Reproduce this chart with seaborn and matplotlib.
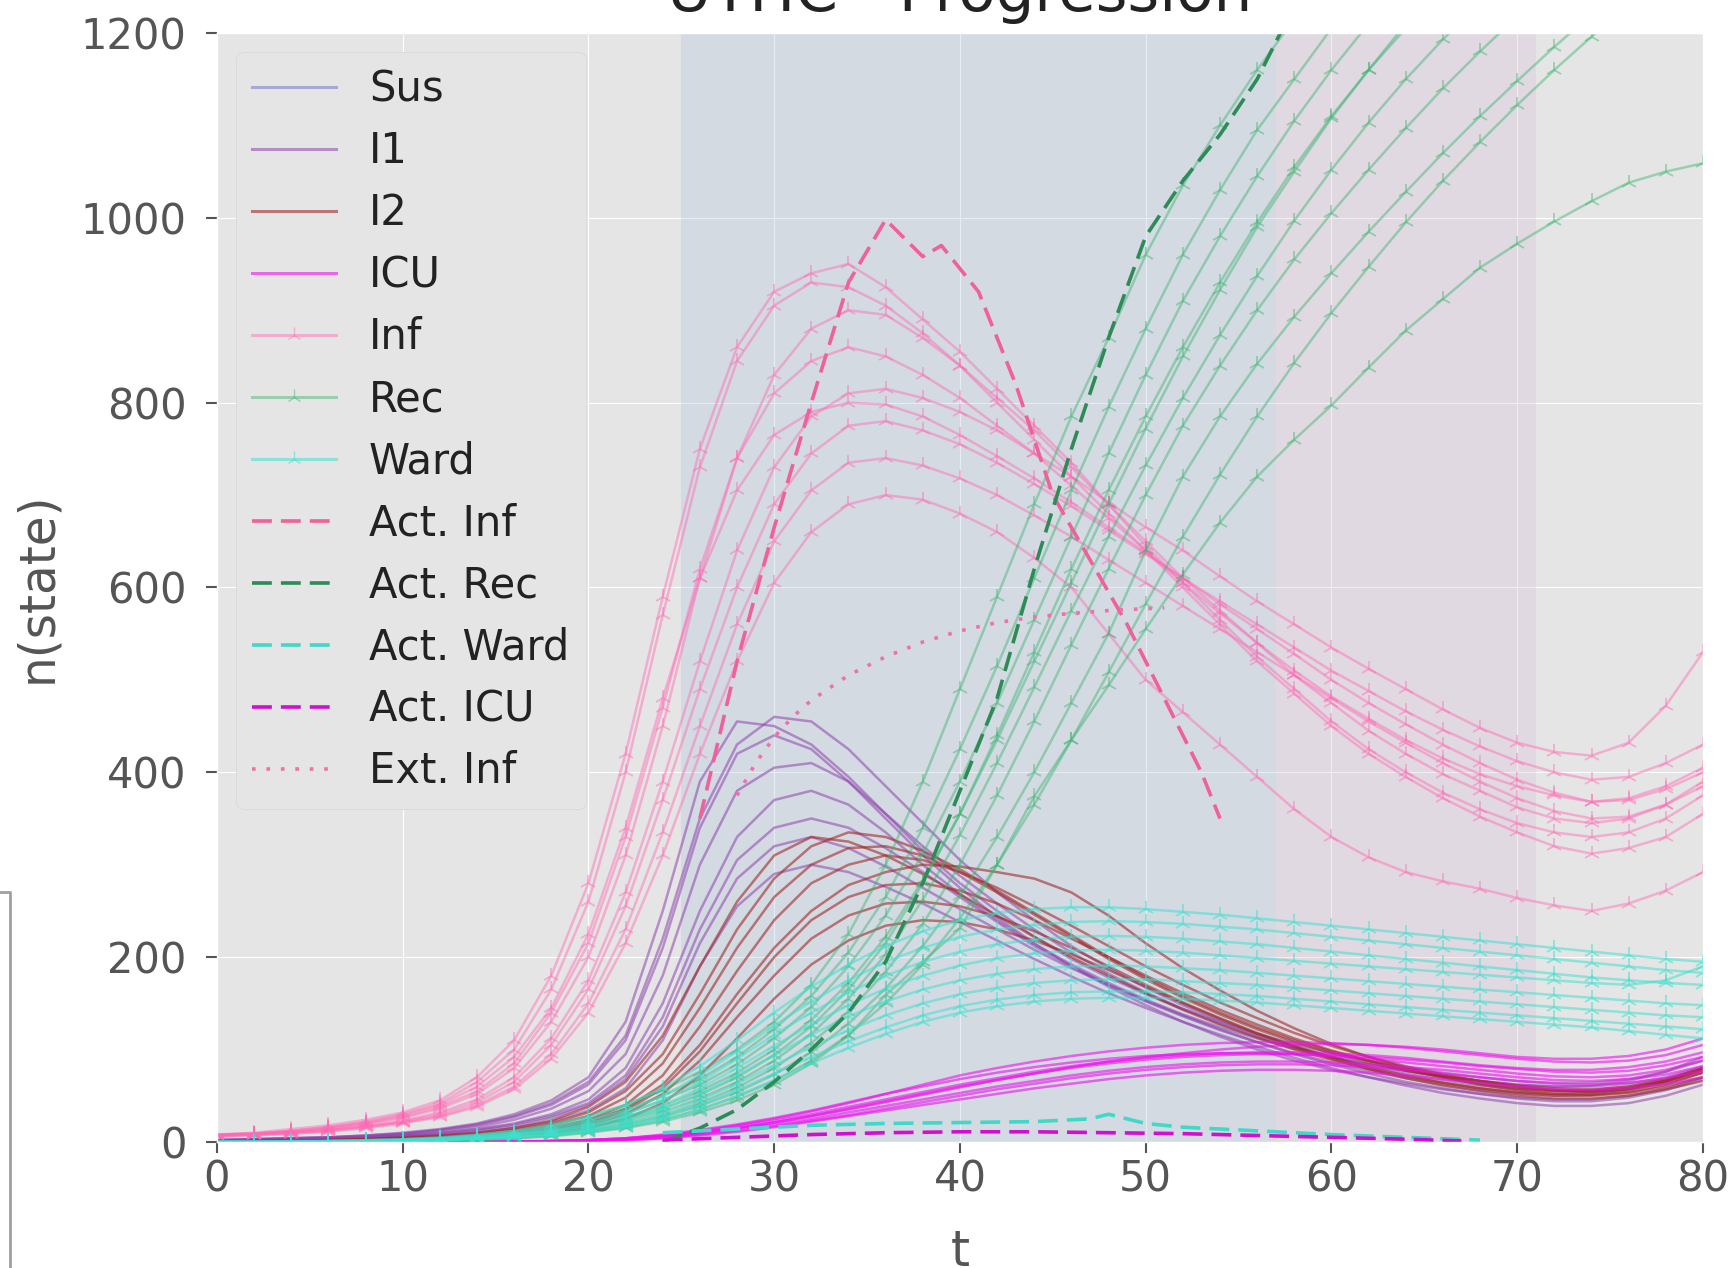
import numpy as np
import pandas as pd
import seaborn as sns
import matplotlib.pyplot as plt
from matplotlib.lines import Line2D

# time axis of the simulated runs (every 2 days)
t_days = list(range(0, 81, 2))

# simulated runs
inf_runs = [
    [8,10,14,18,24,32,45,70,110,180, 280,420,590,750,860,920,940,950,925,890, 855,815,775,735,690,645,605,565,525,490, 455,425,400,378,360,345,335,330,335,350, 375],
    [8,9,12,16,22,30,42,65,100,165, 260,400,570,730,845,905,930,925,905,875, 840,800,760,720,680,640,600,560,520,485, 450,420,395,372,352,335,320,312,318,330, 355],
    [8,9,11,14,19,26,36,52,80,130, 200,310,450,610,740,830,880,900,895,870, 840,805,770,730,690,650,610,575,540,505, 475,445,420,398,380,362,350,345,350,365, 390],
    [7,9,11,15,20,27,38,55,85,140, 215,330,470,620,740,810,845,860,850,830, 805,775,745,710,675,640,605,572,540,510, 482,458,435,415,398,385,375,368,372,385, 405],
    [7,8,10,13,17,23,32,46,70,112, 175,270,390,520,640,730,785,810,815,805, 790,770,745,720,692,665,640,612,585,560, 535,512,490,468,448,432,422,418,432,472, 530],
    [7,8,10,13,17,22,30,43,65,105, 165,255,370,490,600,690,745,775,780,770, 755,735,712,688,662,636,610,585,560,535, 510,488,466,446,428,412,400,392,395,410, 430],
    [6,8,9,12,16,21,28,40,60,95, 150,230,335,450,560,650,705,735,740,732, 718,700,678,655,630,605,580,555,530,505, 480,455,432,410,390,372,358,350,352,365, 385],
    [6,7,9,11,15,20,27,38,57,90, 140,215,310,420,520,605,660,690,700,695, 680,660,632,600,550,500,465,430,395,360, 330,308,292,282,274,264,256,250,258,272, 292],
    [8,9,12,16,21,29,40,60,92,145, 225,340,480,610,705,765,790,800,798,785, 765,742,718,692,665,638,610,582,555,528, 500,475,452,430,410,392,378,368,370,382, 400],
]

rec_runs = [
    [0,0,0,0,1,2,4,7,12,19, 28,40,56,76,100,130,170,225,300,390, 490,590,690,785,870,960,1035,1100,1160,1215, 1265,1310,1355,1395,1430,1465,1495,1525,1550,1575, 1600],
    [0,0,0,0,1,2,3,6,10,16, 24,35,50,68,92,122,158,205,265,340, 425,515,610,705,795,880,960,1030,1095,1150, 1205,1255,1300,1345,1385,1420,1455,1485,1515,1540, 1565],
    [0,0,0,0,1,1,3,5,9,14, 21,31,45,62,84,112,146,190,245,312, 390,475,565,655,745,830,910,980,1045,1105, 1160,1210,1258,1300,1340,1378,1412,1445,1475,1502, 1528],
    [0,0,0,0,0,1,2,4,7,12, 18,27,39,55,75,100,132,172,222,283, 355,435,520,605,690,772,850,922,990,1050, 1108,1160,1210,1255,1298,1338,1375,1410,1442,1472, 1500],
    [0,0,0,0,0,1,2,4,7,11, 17,25,36,51,70,94,125,165,215,280, 355,440,530,620,705,785,860,930,995,1055, 1110,1160,1205,1248,1288,1325,1360,1392,1422,1450, 1476],
    [0,0,0,0,0,1,2,3,6,10, 15,23,33,47,65,88,117,155,203,262, 332,410,492,575,655,732,805,873,937,997, 1052,1103,1150,1193,1233,1270,1305,1338,1369,1398, 1425],
    [0,0,0,0,0,1,2,3,5,8, 13,20,29,42,59,80,107,141,184,236, 300,375,455,538,620,700,775,840,900,955, 1005,1052,1097,1140,1180,1218,1252,1285,1315,1344, 1372],
    [0,0,0,0,0,1,1,3,5,8, 12,18,27,39,54,73,97,128,166,212, 266,330,400,475,550,640,720,785,842,893, 940,985,1028,1070,1110,1148,1185,1220,1252,1283, 1312],
    [0,0,0,0,0,0,1,2,4,7, 11,16,24,35,49,66,88,116,150,192, 242,300,365,435,508,582,655,722,785,843, 897,947,995,1040,1082,1122,1160,1196,1230,1262, 1292],
    [0,0,0,0,0,0,1,2,4,6, 10,15,22,32,45,62,85,115,159,195, 231,300,374,435,494,555,614,670,720,760, 797,838,878,912,946,972,996,1018,1038,1050, 1059],
]

ward_runs = [
    [0,0,1,1,2,3,5,8,12,18, 27,40,58,82,110,140,168,192,212,228, 240,248,252,254,254,252,249,246,242,238, 234,230,226,222,218,214,210,206,202,198, 195],
    [0,0,1,1,2,3,4,7,10,15, 23,34,50,72,98,126,152,175,195,210, 222,230,235,238,239,238,236,233,230,226, 222,218,214,210,206,202,198,194,190,186, 183],
    [0,0,0,1,1,2,4,6,9,13, 20,30,45,65,90,116,140,162,180,195, 206,214,219,222,223,222,220,217,214,210, 206,202,198,194,190,186,182,178,175,172, 170],
    [0,0,0,1,1,2,3,5,8,12, 18,27,40,58,80,104,127,148,166,180, 191,199,204,207,208,207,205,202,199,196, 193,190,187,184,181,178,175,172,170,175, 190],
    [0,0,0,1,1,2,3,5,7,11, 16,24,36,52,72,94,116,136,152,165, 175,182,187,190,191,190,188,186,183,180, 177,174,171,168,165,162,159,156,153,150, 148],
    [0,0,0,0,1,1,2,4,6,9, 14,21,31,45,63,83,103,121,137,150, 160,167,172,175,176,176,174,172,170,167, 164,161,158,155,152,149,146,143,140,137, 135],
    [0,0,0,0,1,1,2,3,5,8, 12,18,27,40,56,74,92,109,124,137, 147,154,159,162,163,163,162,160,158,155, 152,149,146,143,140,137,134,131,128,125, 122],
    [0,0,0,0,1,1,2,3,5,7, 11,16,24,35,50,67,85,102,117,130, 140,147,152,155,156,156,155,153,151,148, 145,142,139,136,133,130,127,124,120,116, 112],
]

i1_runs = [
    [2,3,4,5,7,10,14,20,30,45, 70,130,250,390,455,450,430,395,355,315, 280,250,222,198,178,160,144,130,117,106, 96,88,81,75,70,66,64,64,68,76, 88],
    [2,3,4,5,6,9,13,18,27,40, 62,110,210,340,420,440,425,390,350,310, 275,243,215,190,168,148,130,114,100,88, 78,70,63,57,52,48,46,46,50,58, 70],
    [2,2,3,4,6,8,11,16,24,36, 55,95,180,300,380,405,410,390,355,320, 288,258,230,205,182,162,144,128,114,102, 92,84,77,71,66,62,60,60,63,70, 82],
    [1,2,3,4,5,7,10,14,20,30, 46,80,150,250,330,370,380,365,335,300, 268,240,214,192,172,154,138,124,112,101, 92,84,77,71,66,62,60,61,66,76, 92],
    [1,2,3,4,5,7,9,13,19,28, 42,72,135,230,305,340,350,340,318,292, 265,238,212,190,170,152,136,121,108,96, 86,77,69,62,56,52,50,51,56,65, 78],
    [1,2,2,3,4,6,8,12,17,26, 40,68,125,215,285,320,330,318,298,275, 252,230,208,188,170,153,137,122,108,95, 84,74,65,58,52,47,44,44,48,56, 68],
    [1,1,2,3,4,5,7,10,15,22, 34,58,110,190,255,290,300,292,276,258, 238,218,198,179,161,145,130,116,103,91, 80,70,61,53,47,42,39,39,42,50, 62],
    [2,3,4,5,7,9,13,19,28,42, 65,115,220,350,430,460,455,425,385,345, 305,270,240,212,188,167,148,131,116,103, 92,82,74,67,61,57,55,56,60,68, 80],
]

i2_runs = [
    [0,1,1,2,3,4,6,9,13,20, 32,55,95,160,230,285,320,335,330,315, 295,272,248,224,200,178,158,140,124,110, 98,88,79,72,66,61,58,57,60,68, 80],
    [0,1,1,2,3,4,5,8,12,18, 28,48,85,145,210,265,300,318,320,310, 292,270,246,222,198,176,156,138,122,108, 96,86,77,70,64,59,56,55,58,66, 78],
    [0,0,1,1,2,3,5,7,10,15, 24,40,72,125,185,240,280,300,310,305, 292,275,255,234,212,190,170,151,134,118, 104,92,82,73,66,60,56,55,58,66, 78],
    [0,0,1,1,2,3,4,6,9,14, 22,36,62,105,160,210,250,278,292,300, 298,292,285,270,245,215,188,164,142,123, 106,92,80,70,62,56,52,51,54,62, 75],
    [0,0,1,1,2,3,4,6,9,13, 20,34,58,98,150,200,240,265,278,280, 272,258,240,220,200,180,161,143,127,112, 99,88,78,70,63,58,55,54,57,64, 75],
    [0,0,1,1,2,2,3,5,8,12, 18,30,52,88,135,180,220,245,258,260, 255,244,228,210,190,170,151,134,118,104, 92,81,72,64,58,53,50,50,53,60, 70],
    [0,0,0,1,1,2,3,4,6,10, 15,25,42,72,112,155,192,218,234,240, 238,230,218,203,186,168,150,133,117,103, 90,79,69,61,55,50,47,47,50,57, 66],
    [0,1,1,2,3,5,7,10,15,23, 38,65,115,190,260,310,330,325,310,290, 268,245,222,200,180,161,143,127,113,100, 89,79,71,64,58,54,52,53,57,66, 80],
]

icu_runs = [
    [0,0,0,0,0,0,0,0,0,1, 2,4,7,12,18,25,33,42,52,62, 72,80,87,93,98,102,105,107,108,108, 107,105,102,98,94,90,87,86,88,94, 105],
    [0,0,0,0,0,0,0,0,0,1, 2,3,6,10,15,21,28,36,44,52, 60,67,74,80,85,89,92,94,95,95, 94,92,89,86,82,79,76,75,77,83, 92],
    [0,0,0,0,0,0,0,0,1,1, 2,4,8,13,19,26,34,43,52,60, 68,75,81,86,90,93,95,96,96,95, 93,90,86,82,78,74,71,70,72,78, 88],
    [0,0,0,0,0,0,0,0,0,0, 1,3,5,9,14,19,25,32,39,46, 53,60,66,72,77,81,84,86,87,87, 86,84,81,78,74,70,67,66,68,73, 82],
    [0,0,0,0,0,0,0,0,0,1, 2,3,6,10,15,21,28,35,43,51, 59,67,74,81,87,92,96,100,103,105, 106,105,103,100,96,92,90,90,93,100, 112],
    [0,0,0,0,0,0,0,0,0,0, 1,2,4,7,11,16,22,28,34,40, 46,52,58,63,68,72,75,77,78,78, 77,75,72,68,64,60,57,56,58,63, 70],
    [0,0,0,0,0,0,0,0,0,1, 2,4,7,11,17,23,30,38,46,54, 62,69,76,82,87,91,94,96,97,97, 96,94,91,87,83,80,78,78,81,87, 97],
    [0,0,0,0,0,0,0,0,0,0, 1,2,4,8,12,17,23,29,36,43, 50,57,63,69,74,78,81,83,84,84, 83,81,78,74,70,66,63,62,64,69, 77],
]

# reported ("actual") data and extrapolation
act_inf_t = [26, 28, 30, 32, 34, 36, 38, 39, 41, 43, 45, 47, 49, 51, 53, 54]
act_inf = [350, 520, 665, 800, 930, 998, 958, 970, 920, 820, 700, 630, 560, 480, 400, 350]
act_rec_t = [24, 26, 28, 30, 32, 34, 36, 38, 40, 42, 44, 46, 48, 50, 52, 54, 56, 58]
act_rec = [0, 15, 35, 65, 100, 140, 195, 280, 380, 480, 620, 750, 870, 980, 1040, 1090, 1150, 1230]
act_ward_t = [24, 28, 32, 36, 40, 44, 47, 48, 50, 52, 56, 60, 64, 68]
act_ward = [10, 14, 18, 20, 21, 22, 25, 30, 20, 16, 12, 8, 5, 2]
act_icu_t = [24, 28, 32, 36, 40, 44, 48, 52, 56, 60, 64, 67]
act_icu = [2, 5, 8, 10, 11, 11, 10, 9, 7, 5, 3, 1]
ext_inf_t = [28, 29, 30, 31, 32, 34, 36, 38, 40, 42, 44, 46, 48, 50, 51]
ext_inf = [375, 410, 438, 460, 478, 505, 525, 541, 553, 562, 568, 572, 575, 577, 578]


def long_form(runs):
    rows = []
    for k, run in enumerate(runs):
        for t, n in zip(t_days, run):
            rows.append((t, n, k))
    return pd.DataFrame(rows, columns=['t', 'n', 'run'])


plt.style.use('ggplot')
plt.rcParams['font.family'] = ['DejaVu Sans']

fig, ax = plt.subplots(figsize=(17.34, 12.68), dpi=100)
fig.subplots_adjust(left=0.1251, right=0.9821, bottom=0.0994, top=0.974)

# intervention periods
ax.axvspan(25, 57, color='lightsteelblue', alpha=0.32, lw=0)
ax.axvspan(57, 71, color='thistle', alpha=0.3, lw=0)

styles = {
    'Sus': dict(color='#6a6acd', alpha=0.5, marker=None),
    'I1': dict(color='#8e44ad', alpha=0.55, marker=None),
    'I2': dict(color='#a02a2a', alpha=0.6, marker=None),
    'ICU': dict(color='#ee10ee', alpha=0.6, marker=None),
    'Inf': dict(color='#ff69b4', alpha=0.45, marker='2'),
    'Rec': dict(color='#3cb371', alpha=0.45, marker='2'),
    'Ward': dict(color='#40e0d0', alpha=0.55, marker='2'),
}
series = [('I1', i1_runs), ('I2', i2_runs), ('ICU', icu_runs),
          ('Inf', inf_runs), ('Rec', rec_runs), ('Ward', ward_runs)]

for name, runs in series:
    st = styles[name]
    kw = dict(color=st['color'], alpha=st['alpha'], lw=1.8)
    if st['marker']:
        kw.update(marker=st['marker'], ms=12, mec=st['color'], mew=1.3)
    sns.lineplot(data=long_form(runs), x='t', y='n', units='run',
                 estimator=None, legend=False, ax=ax, **kw)

ax.plot(act_inf_t, act_inf, color='#f0609a', lw=2.6, dashes=(5.5, 2.5))
ax.plot(act_rec_t, act_rec, color='#2e8b57', lw=2.6, dashes=(5.5, 2.5))
ax.plot(act_ward_t, act_ward, color='#40d8c8', lw=2.6, dashes=(5.5, 2.5))
ax.plot(act_icu_t, act_icu, color='#d010d0', lw=2.6, dashes=(5.5, 2.5))
ax.plot(ext_inf_t, ext_inf, color='#f070a8', lw=2.6, dashes=(1, 3))

handles = []
for name in ['Sus', 'I1', 'I2', 'ICU', 'Inf', 'Rec', 'Ward']:
    st = styles[name]
    handles.append(Line2D([], [], color=st['color'], alpha=st['alpha'], lw=2.2,
                          marker=st['marker'], ms=11, mec=st['color'], label=name))
handles += [
    Line2D([], [], color='#f0609a', lw=2.6, dashes=(5.5, 2.5), label='Act. Inf'),
    Line2D([], [], color='#2e8b57', lw=2.6, dashes=(5.5, 2.5), label='Act. Rec'),
    Line2D([], [], color='#40d8c8', lw=2.6, dashes=(5.5, 2.5), label='Act. Ward'),
    Line2D([], [], color='#d010d0', lw=2.6, dashes=(5.5, 2.5), label='Act. ICU'),
    Line2D([], [], color='#f070a8', lw=2.6, dashes=(1, 3), label='Ext. Inf'),
]
leg = ax.legend(handles=handles, loc='upper left', fontsize=30,
                facecolor='#E5E5E5', edgecolor='#D6D6D6', framealpha=1,
                handlelength=2.0, labelspacing=0.48, borderaxespad=0.45)
for txt in leg.get_texts():
    txt.set_color('#222222')

ax.set_xlim(0, 80)
ax.set_ylim(0, 1200)
ax.set_xticks(range(0, 81, 10))
ax.set_yticks(range(0, 1201, 200))
ax.tick_params(labelsize=30, colors='#555555', length=8, width=1.5)
ax.tick_params(axis='y', pad=14)
ax.tick_params(axis='x', pad=4)
ax.set_xlabel('t', fontsize=35, color='#555555', labelpad=20)
ax.set_ylabel('n(state)', fontsize=35, color='#555555', labelpad=14)
ax.set_title('UTHC - Progression', fontsize=44, color='#222222', pad=16)

# edge of a neighbouring panel in the original screenshot
fig.add_artist(Line2D([0, 10 / 1734, 10 / 1734], [376 / 1268, 376 / 1268, 0],
                      transform=fig.transFigure, color='#a0a0a0', lw=2))

fig.savefig('out.png', dpi=100)
